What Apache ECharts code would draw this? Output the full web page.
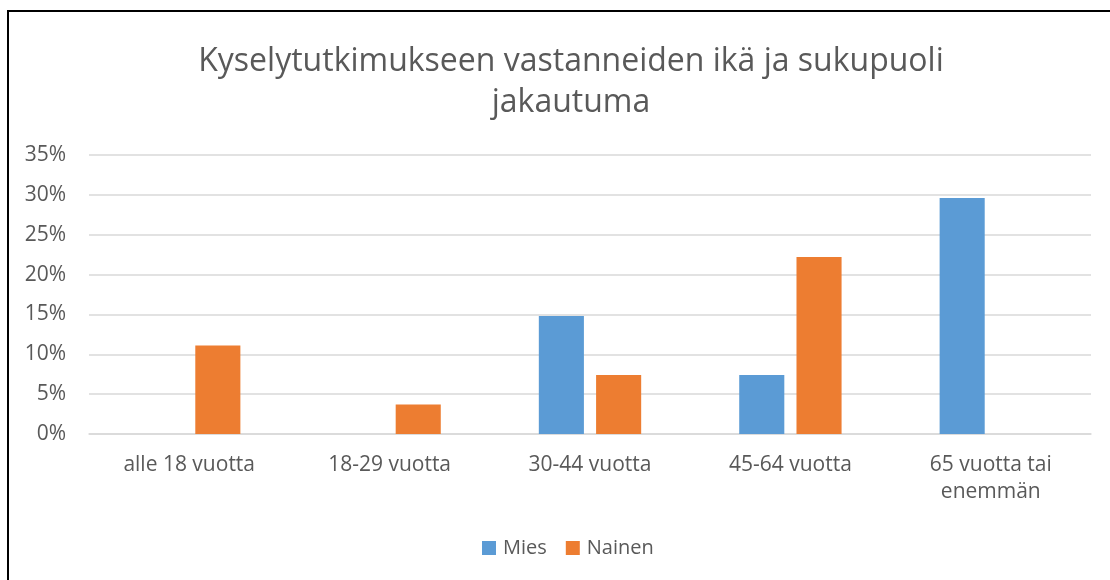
<!DOCTYPE html>
<html>
<head>
<meta charset="utf-8">
<script src="https://cdn.jsdelivr.net/npm/echarts@6/dist/echarts.min.js"></script>
<style>
  html, body { margin: 0; padding: 0; background: #fff; overflow: hidden; }
  #frame { position: absolute; left: 7px; top: 10px; width: 1200px; height: 700px; border: 2px solid #000; }
  #chart { position: absolute; left: 0; top: 0; width: 1110px; height: 580px; }
</style>
</head>
<body>
<div id="frame"></div>
<div id="chart"></div>
<script>
var categories = ['alle 18 vuotta', '18-29 vuotta', '30-44 vuotta', '45-64 vuotta', '65 vuotta tai\nenemmän'];
var miesValues = [0, 0, 14.8, 7.4, 29.6];
var nainenValues = [11.1, 3.7, 7.4, 22.2, 0];
var seriesNames = ['Mies', 'Nainen'];

var chartDom = document.getElementById('chart');
var myChart = echarts.init(chartDom);
var textColor = '#595959';
var font = '"Open Sans", sans-serif';
var option = {
    animation: false,
    color: ['#5b9bd5', '#ed7d31'],
    title: {
        text: 'Kyselytutkimukseen vastanneiden ikä ja sukupuoli\njakautuma',
        left: 566,
        top: 36,
        textAlign: 'center',
        textStyle: {
            color: textColor,
            fontFamily: font,
            fontSize: 32,
            fontWeight: 'normal',
            lineHeight: 41
        }
    },
    legend: {
        data: seriesNames,
        left: 482,
        top: 538,
        padding: 0,
        itemWidth: 14,
        itemHeight: 14,
        itemGap: 19,
        icon: 'rect',
        textStyle: {
            color: textColor,
            fontFamily: font,
            fontSize: 20,
            padding: [0, 0, 0, 2]
        }
    },
    grid: {
        left: 89,
        right: 19,
        top: 155,
        bottom: 146,
        containLabel: false
    },
    xAxis: {
        type: 'category',
        data: categories,
        axisLine: { lineStyle: { color: '#d9d9d9', width: 1.5 } },
        axisTick: { show: false },
        axisLabel: {
            color: textColor,
            fontFamily: font,
            fontSize: 21,
            margin: 18,
            lineHeight: 27,
            interval: 0
        }
    },
    yAxis: {
        type: 'value',
        min: 0,
        max: 35,
        interval: 5,
        axisLine: { show: false },
        axisTick: { show: false },
        axisLabel: {
            color: textColor,
            fontFamily: font,
            fontSize: 21,
            margin: 23,
            formatter: '{value}%'
        },
        splitLine: { lineStyle: { color: '#d9d9d9', width: 1.5 } }
    },
    series: [
        {
            name: seriesNames[0],
            type: 'bar',
            data: miesValues,
            barWidth: '22.5%',
            barGap: '27%'
        },
        {
            name: seriesNames[1],
            type: 'bar',
            data: nainenValues,
            barWidth: '22.5%',
            barGap: '27%'
        }
    ]
};
option && myChart.setOption(option);
</script>
</body>
</html>
